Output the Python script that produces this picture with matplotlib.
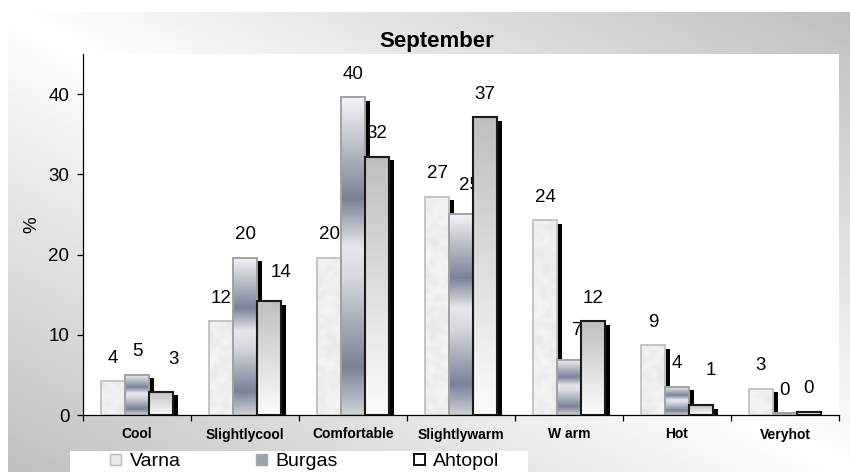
import numpy as np
import matplotlib
matplotlib.use("Agg")
import matplotlib.pyplot as plt
from matplotlib.colors import LinearSegmentedColormap
from matplotlib.patches import Rectangle, Patch

# ---- data -------------------------------------------------------------
categories = ["Cool", "Slightlycool", "Comfortable", "Slightlywarm",
              "W arm", "Hot", "Veryhot"]
varna = [4.2, 11.7, 19.6, 27.2, 24.3, 8.7, 3.3]
burgas = [5.0, 19.6, 39.6, 25.1, 6.9, 3.5, 0.2]
ahtopol = [2.9, 14.2, 32.2, 37.1, 11.7, 1.2, 0.4]
series_names = ["Varna", "Burgas", "Ahtopol"]
y_ticks = [0, 10, 20, 30, 40]
title_text = "September"
y_label = "%"

plt.rcParams["font.family"] = ["Liberation Sans", "DejaVu Sans"]

W, H = 850, 472
fig = plt.figure(figsize=(W / 100, H / 100), dpi=100)
fig.patch.set_facecolor("white")


def fx(px):
    return px / W


def fy(py):
    return 1 - py / H


# ---- chart-area background: diagonal grey gradient ----------------------
bg = fig.add_axes([fx(8), 0, 1 - fx(8), fy(12)])
bg.set_axis_off()
u = np.linspace(0, 1, 420)[None, :]
v = np.linspace(0, 1, 240)[:, None]
shade = 1.0 - 0.25 * np.abs(u - v)
bg.imshow(shade, cmap="gray", vmin=0, vmax=1, aspect="auto",
          extent=(0, 1, 0, 1), interpolation="bilinear")

# ---- plot area ---------------------------------------------------------
ax = fig.add_axes([fx(83), 1 - 415 / H, fx(839) - fx(83), (415 - 54) / H])
ax.set_facecolor("white")
YMAX = 45
px_per_x = (839 - 83) / 7.0
px_per_y = (415 - 54) / YMAX

bw = 24 / px_per_x
shadow_dx = 5 / px_per_x
shadow_dy = 3.5 / px_per_y
x = np.arange(len(categories))

series = [varna, burgas, ahtopol]
offsets = [-bw, 0.0, bw]
base_colors = ["#e6e6e6", "#b4b8c4", "#dedede"]
edge_colors = ["#c4c4c4", "#a2a2a2", "#1a1a1a"]
edge_widths = [1.4, 1.4, 1.5]

burgas_cmap = LinearSegmentedColormap.from_list(
    "steel",
    [(0.0, "#f6f6f8"), (0.32, "#7b8296"), (0.47, "#e6e7eb"),
     (0.56, "#d9dbe1"), (0.85, "#7b8296"), (1.0, "#cfd2d9")])
ahtopol_cmap = LinearSegmentedColormap.from_list(
    "silver", [(0.0, "#bfbfbf"), (1.0, "#fcfcfc")])

rng = np.random.default_rng(11)

for s_idx, (vals, off) in enumerate(zip(series, offsets)):
    vals = np.asarray(vals, dtype=float)
    # drop shadow
    ax.bar(x + off + shadow_dx, np.maximum(vals - shadow_dy, 0), bw,
           align="center", color="black", linewidth=0, zorder=2)
    bars = ax.bar(x + off, vals, bw, align="center",
                  facecolor=base_colors[s_idx], edgecolor="none", zorder=3)
    for patch, h in zip(bars.patches, vals):
        x0 = patch.get_x()
        x1 = x0 + patch.get_width()
        if s_idx == 0:
            rows = max(int(h * px_per_y / 4), 2)
            tex = 0.90 + 0.07 * rng.random((rows, 6))
            im = ax.imshow(tex, cmap="gray", vmin=0, vmax=1,
                           extent=(x0, x1, 0, h), aspect="auto",
                           interpolation="bicubic", zorder=3.2)
        else:
            grad = np.linspace(0, 1, 256)[:, None]
            cmap = burgas_cmap if s_idx == 1 else ahtopol_cmap
            im = ax.imshow(grad, cmap=cmap, vmin=0, vmax=1,
                           extent=(x0, x1, 0, h), aspect="auto",
                           interpolation="bilinear", zorder=3.2)
        im.set_clip_path(patch)
    ax.bar(x + off, vals, bw, align="center", fill=False,
           edgecolor=edge_colors[s_idx], linewidth=edge_widths[s_idx],
           zorder=3.5)

# value labels (drawn beneath the bars, as in the original layout)
nudges = {(2, 0): (13, 32), (2, 1): (12, 29), (1, 3): (8, 28),
          (1, 4): (8, 29), (2, 5): (10, 35)}
for s_idx, (vals, off) in enumerate(zip(series, offsets)):
    for c_idx, val in enumerate(vals):
        dx, dy = nudges.get((s_idx, c_idx), (0, 23))
        ax.annotate(f"{val:.0f}", (x[c_idx] + off, val),
                    xytext=(dx * 0.72, dy * 0.72), textcoords="offset points",
                    ha="center", va="center", fontsize=13.5, zorder=1.5)

ax.set_xlim(-0.5, len(categories) - 0.5)
ax.set_ylim(0, YMAX)

for side in ("top", "right"):
    ax.spines[side].set_visible(False)
for side in ("left", "bottom"):
    ax.spines[side].set_color("black")
    ax.spines[side].set_linewidth(0.9)

ax.set_yticks(y_ticks)
ax.tick_params(axis="y", length=4.3, width=0.9, direction="out",
               labelsize=13.5, pad=5.5)
ax.set_xticks(np.arange(-0.5, len(categories), 1.0))
ax.set_xticklabels([])
ax.tick_params(axis="x", which="major", length=4.3, width=0.9,
               direction="out")
ax.set_xticks(x, minor=True)
ax.set_xticklabels(categories, minor=True, fontsize=10, fontweight="bold")
ax.tick_params(axis="x", which="minor", length=0, pad=9.0)

fig.text(fx(32), fy(225), y_label, rotation=90, fontsize=13.5,
         ha="center", va="center")
fig.text(fx(437), fy(46.7), title_text, fontsize=16, fontweight="bold",
         ha="center", va="baseline")

# ---- legend ------------------------------------------------------------
fig.patches.append(Rectangle((fx(70), 0), fx(528) - fx(70), fy(450.7),
                             transform=fig.transFigure, facecolor="white",
                             edgecolor="none", zorder=1))
handles = [
    Patch(facecolor="#e8e8e8", edgecolor="#bdbdbd", linewidth=1.0),
    Patch(facecolor="#9aa0ae", edgecolor="#a6a6a6", linewidth=1.0),
    Patch(facecolor="white", edgecolor="#111111", linewidth=1.4),
]
fig.legend(handles, series_names, loc="center left",
           bbox_to_anchor=(fx(110), fy(462)), ncol=3, frameon=False,
           fontsize=14, handlelength=0.55, handleheight=0.55,
           handletextpad=0.45, columnspacing=3.9, borderpad=0,
           borderaxespad=0)

fig.savefig("out.png", dpi=100)
